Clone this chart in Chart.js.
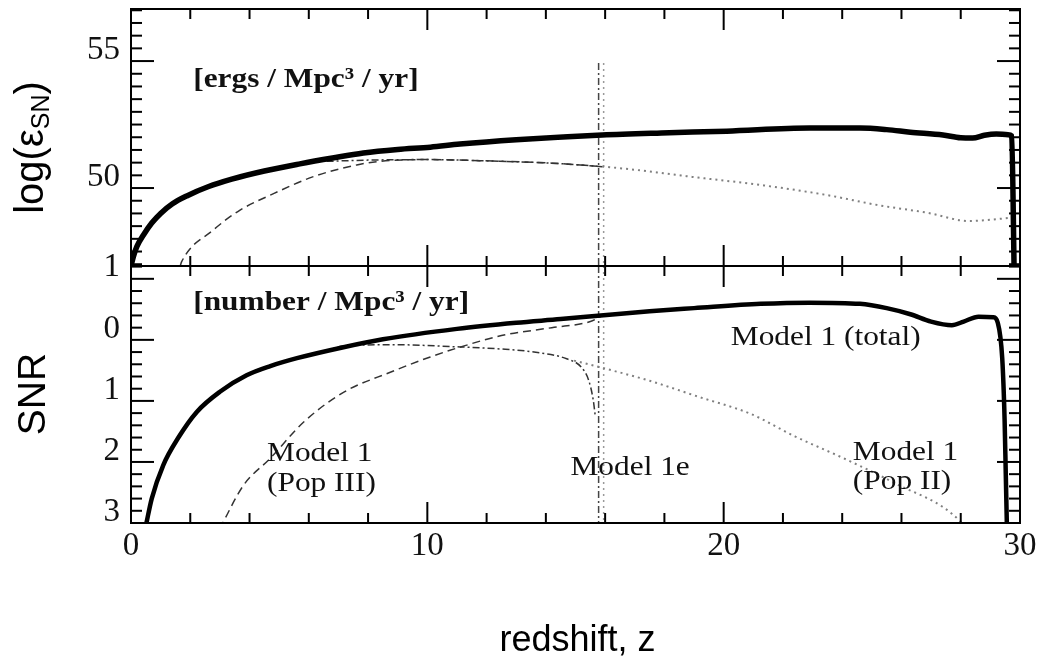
<!DOCTYPE html>
<html lang="en">
<head>
    <meta charset="UTF-8">
    <title>Supernova rate vs redshift</title>
    <script src="https://cdn.jsdelivr.net/npm/chart.js"></script>
    <style>
        html, body { margin: 0; padding: 0; background: #fff; }
        canvas { display: block; }
    </style>
</head>
<body>
    <canvas id="snChart" width="1041" height="658"></canvas>
    <script>
    // ---- top panel: log energy rate ----
    const topTotalZ = [0, 0.08, 0.2, 0.42, 0.7, 1.0, 1.4, 1.9, 2.6, 3.4, 4.5, 5.7, 6.8, 7.84, 9.0, 10.1, 11.1, 13.0, 15.9, 17.9, 20.1, 22.9, 24.6, 25.5, 26.3, 27.4, 28.0, 28.4, 28.8, 29.2, 29.6, 29.72, 29.8];
    const topTotalV = [46.93, 47.3, 47.7, 48.15, 48.62, 49.0, 49.38, 49.7, 50.05, 50.35, 50.67, 50.95, 51.18, 51.38, 51.52, 51.61, 51.73, 51.9, 52.09, 52.17, 52.24, 52.36, 52.36, 52.3, 52.2, 52.09, 51.98, 51.97, 52.08, 52.13, 52.1, 52.05, 46.93];
    const topPop3Z = [1.66, 1.71, 2.78, 3.68, 4.7, 6.16, 7.62, 8.4, 10.0, 12.0, 14.2, 15.6, 15.9];
    const topPop3V = [46.93, 47.1, 48.35, 49.13, 49.72, 50.45, 50.91, 51.05, 51.12, 51.07, 50.98, 50.87, 50.85];
    const top1eZ = [6.6, 8.0, 10.0, 12.0, 14.2, 15.6, 15.9];
    const top1eV = [51.05, 51.1, 51.12, 51.07, 50.98, 50.87, 50.84];
    const topPop2Z = [15.9, 17.0, 19.0, 21.25, 23.5, 25.2, 26.9, 28.3, 28.9, 29.6];
    const topPop2V = [50.85, 50.72, 50.43, 50.12, 49.72, 49.33, 49.02, 48.7, 48.74, 48.82];
    const topSpikeV = [54.92, 46.93];

    // ---- bottom panel: log number rate ----
    const botTotalZ = [0.48, 0.53, 0.7, 1.09, 1.6, 2.22, 3.0, 3.9, 4.7, 5.6, 7.17, 8.5, 11.0, 13.0, 14.5, 15.85, 17.5, 19.0, 21.25, 22.9, 24.6, 25.5, 26.3, 27.0, 27.7, 28.1, 28.6, 29.1, 29.25, 29.4, 29.48, 29.52, 29.56];
    const botTotalV = [3.1, 2.98, 2.6, 2.05, 1.6, 1.18, 0.85, 0.58, 0.43, 0.30, 0.12, -0.01, -0.18, -0.28, -0.34, -0.40, -0.47, -0.52, -0.59, -0.61, -0.59, -0.52, -0.42, -0.30, -0.24, -0.30, -0.38, -0.37, -0.28, 0.3, 1.3, 2.2, 3.1];
    const botPop3Z = [3.0, 3.12, 3.8, 4.7, 5.82, 7.17, 8.75, 10.1, 11.1, 12.5, 14.2, 15.5, 15.85];
    const botPop3V = [3.1, 2.98, 2.38, 1.94, 1.35, 0.86, 0.53, 0.28, 0.12, -0.07, -0.2, -0.30, -0.38];
    const bot1eZ = [6.5, 7.17, 9.0, 10.8, 12.5, 13.6, 14.7, 15.2, 15.45, 15.6, 15.67];
    const bot1eV = [0.2, 0.10, 0.08, 0.11, 0.15, 0.2, 0.31, 0.45, 0.67, 0.99, 1.26];
    const botPop2Z = [14.95, 15.6, 17.5, 19.2, 20.9, 22.4, 24.05, 25.7, 28.0, 28.1];
    const botPop2V = [0.34, 0.42, 0.67, 0.94, 1.21, 1.58, 1.94, 2.33, 2.98, 3.05];
    const botSpikeV = [-1.21, 3.0];

    const spikeZ = [15.78, 15.95];

    // axes
    const xRange = [0, 30];
    const topRange = [46.93, 57.05];
    const botRange = [-1.21, 3.0];
    const xTickVals = [0, 10, 20, 30];
    const topTickVals = [55, 50];
    const topTickText = ['55', '50'];
    const botTickVals = [-1, 0, 1, 2, 3];
    const botTickText = ['1', '0', '1', '2', '3'];

    const serif = "'Liberation Serif', 'Times New Roman', serif";
    const sans = "'Liberation Sans', Arial, sans-serif";

    function pts(zs, vs) {
        return zs.map((z, i) => ({ x: z, y: vs[i] }));
    }
    function flat(z, vs) {
        return vs.map(v => ({ x: z, y: v }));
    }

    const solid = { borderColor: '#000', borderDash: [] };
    const dashed = { borderColor: '#333', borderWidth: 1.5, borderDash: [8, 5] };
    const dashDot = { borderColor: '#333', borderWidth: 1.5, borderDash: [7, 3, 2, 3] };
    const dotted = { borderColor: '#808080', borderWidth: 2, borderDash: [2, 4] };

    const datasets = [
        { data: pts(topTotalZ, topTotalV), yAxisID: 'yTop', ...solid, borderWidth: 5.5 },
        { data: pts(botTotalZ, botTotalV), yAxisID: 'yBot', ...solid, borderWidth: 4.5 },
        { data: pts(topPop3Z, topPop3V), yAxisID: 'yTop', ...dashed },
        { data: pts(botPop3Z, botPop3V), yAxisID: 'yBot', ...dashed },
        { data: pts(top1eZ, top1eV), yAxisID: 'yTop', ...dashDot },
        { data: pts(bot1eZ, bot1eV), yAxisID: 'yBot', ...dashDot },
        { data: pts(topPop2Z, topPop2V), yAxisID: 'yTop', ...dotted },
        { data: pts(botPop2Z, botPop2V), yAxisID: 'yBot', ...dotted },
        { data: flat(spikeZ[0], topSpikeV), yAxisID: 'yTop', ...dashDot, borderColor: '#444', cubicInterpolationMode: 'default', tension: 0 },
        { data: flat(spikeZ[1], topSpikeV), yAxisID: 'yTop', ...dotted, borderColor: '#999', borderWidth: 1.5, cubicInterpolationMode: 'default', tension: 0 },
        { data: flat(spikeZ[0], botSpikeV), yAxisID: 'yBot', ...dashDot, borderColor: '#444', cubicInterpolationMode: 'default', tension: 0 },
        { data: flat(spikeZ[1], botSpikeV), yAxisID: 'yBot', ...dotted, borderColor: '#999', borderWidth: 1.5, cubicInterpolationMode: 'default', tension: 0 }
    ];

    // annotation texts (left edge z, centre value, panel)
    const notes = [
        { text: '[ergs / Mpc\u00B3 / yr]', z: 2.1, v: 54.25, axis: 'yTop', bold: true },
        { text: '[number / Mpc\u00B3 / yr]', z: 2.1, v: -0.61, axis: 'yBot', bold: true },
        { text: 'Model 1 (total)', z: 20.24, v: -0.04, axis: 'yBot' },
        { text: 'Model 1e', z: 14.83, v: 2.09, axis: 'yBot' },
        { text: 'Model 1', z: 24.36, v: 1.84, axis: 'yBot' },
        { text: '(Pop II)', z: 24.36, v: 2.33, axis: 'yBot' },
        { text: 'Model 1', z: 4.59, v: 1.86, axis: 'yBot' },
        { text: '(Pop III)', z: 4.59, v: 2.35, axis: 'yBot' }
    ];
    const textStretch = 1.12;

    function stretchedText(ctx, str, x, y, font, align) {
        ctx.save();
        ctx.translate(x, y);
        ctx.scale(textStretch, 1);
        ctx.font = font;
        ctx.textAlign = align;
        ctx.textBaseline = 'middle';
        ctx.fillText(str, 0, 0);
        ctx.restore();
    }

    const framePlugin = {
        id: 'frame',
        afterDatasetsDraw(chart) {
            const { ctx, chartArea: a, scales } = chart;
            const x = scales.x, yTop = scales.yTop, yBot = scales.yBot;
            const mid = yTop.bottom;
            ctx.save();
            ctx.strokeStyle = '#000';
            ctx.lineWidth = 2;
            const seg = (x0, y0, x1, y1) => {
                ctx.beginPath(); ctx.moveTo(x0, y0); ctx.lineTo(x1, y1); ctx.stroke();
            };
            // x ticks, every 2, long every 10
            for (let k = 0; k <= 15; k++) {
                const px = x.getPixelForValue(k * 2);
                const len = (k % 5 === 0) ? 21 : 10;
                seg(px, a.top, px, a.top + len);
                seg(px, mid, px, mid - len);
                seg(px, mid, px, mid + len);
                seg(px, a.bottom, px, a.bottom - len);
            }
            // top y ticks, every 0.5, long every 5
            for (let k = 94; k <= 114; k++) {
                const py = yTop.getPixelForValue(k * 0.5);
                const len = (k % 10 === 0) ? 23 : 11;
                seg(a.left, py, a.left + len, py);
                seg(a.right, py, a.right - len, py);
            }
            // bottom y ticks, every 0.2, long every 1
            for (let k = -6; k <= 15; k++) {
                const py = yBot.getPixelForValue(k * 0.2);
                const len = (k % 5 === 0) ? 23 : 11;
                seg(a.left, py, a.left + len, py);
                seg(a.right, py, a.right - len, py);
            }
            ctx.strokeRect(a.left, a.top, a.right - a.left, a.bottom - a.top);
            seg(a.left, mid, a.right, mid);

            // annotations
            ctx.fillStyle = '#111';
            notes.forEach(n => {
                const font = (n.bold ? 'bold ' : '') + '28px ' + serif;
                stretchedText(ctx, n.text, x.getPixelForValue(n.z), scales[n.axis].getPixelForValue(n.v), font, 'left');
            });

            // axis titles
            ctx.fillStyle = '#000';
            ctx.font = '36px ' + sans;
            ctx.textAlign = 'center';
            ctx.textBaseline = 'alphabetic';
            ctx.fillText('redshift, z', (a.left + a.right) / 2 + 2, 651);

            // log(eps_SN), rotated
            ctx.save();
            ctx.translate(43, (yTop.top + yTop.bottom) / 2 + 10);
            ctx.rotate(-Math.PI / 2);
            const mainFont = '40px ' + sans, subFont = '25px ' + sans;
            ctx.font = mainFont; const w1 = ctx.measureText('log(\u03B5').width; const w3 = ctx.measureText(')').width;
            ctx.font = subFont; const w2 = ctx.measureText('SN').width;
            let sx = -(w1 + w2 + w3) / 2;
            ctx.textAlign = 'left';
            ctx.font = mainFont; ctx.fillText('log(\u03B5', sx, 0); sx += w1;
            ctx.font = subFont; ctx.fillText('SN', sx, 6); sx += w2;
            ctx.font = mainFont; ctx.fillText(')', sx, 0);
            ctx.restore();

            ctx.save();
            ctx.translate(45, 394);
            ctx.rotate(-Math.PI / 2);
            ctx.font = '39px ' + sans;
            ctx.textAlign = 'center';
            ctx.fillText('SNR', 0, 0);
            ctx.restore();
            ctx.restore();
        }
    };

    const tickFont = { family: serif, size: 33 };
    // the y axes must not reserve room for half tick labels
    const fitY = s => { s.width = 131; s.paddingTop = 0; s.paddingBottom = 0; };

    new Chart(document.getElementById('snChart').getContext('2d'), {
        type: 'line',
        data: { datasets },
        options: {
            responsive: false,
            animation: false,
            layout: { padding: { top: 9, right: 21, left: 0, bottom: 0 } },
            plugins: { legend: { display: false }, tooltip: { enabled: false } },
            elements: {
                point: { radius: 0 },
                line: { fill: false, cubicInterpolationMode: 'monotone', borderCapStyle: 'butt' }
            },
            scales: {
                x: {
                    type: 'linear', min: xRange[0], max: xRange[1],
                    afterBuildTicks: s => { s.ticks = xTickVals.map(v => ({ value: v })); },
                    afterFit: s => { s.height = 135; s.paddingLeft = 0; s.paddingRight = 0; },
                    grid: { display: false, drawTicks: false },
                    border: { display: false },
                    ticks: { font: tickFont, color: '#111', padding: 4, maxRotation: 0, autoSkip: false, callback: v => String(v) }
                },
                yBot: {
                    type: 'linear', position: 'left', stack: 'panels', stackWeight: 1,
                    reverse: true, min: botRange[0], max: botRange[1],
                    afterBuildTicks: s => { s.ticks = botTickVals.map(v => ({ value: v })); },
                    afterFit: fitY,
                    grid: { display: false, drawTicks: false },
                    border: { display: false },
                    ticks: { font: tickFont, color: '#111', padding: 11, labelOffset: -11, autoSkip: false,
                        callback: (v, i) => botTickText[i] }
                },
                yTop: {
                    type: 'linear', position: 'left', stack: 'panels', stackWeight: 1,
                    min: topRange[0], max: topRange[1],
                    afterBuildTicks: s => { s.ticks = topTickVals.map(v => ({ value: v })); },
                    afterFit: fitY,
                    grid: { display: false, drawTicks: false },
                    border: { display: false },
                    ticks: { font: tickFont, color: '#111', padding: 11, labelOffset: -11, autoSkip: false,
                        callback: (v, i) => topTickText[i] }
                }
            }
        },
        plugins: [framePlugin]
    });
    </script>
</body>
</html>
